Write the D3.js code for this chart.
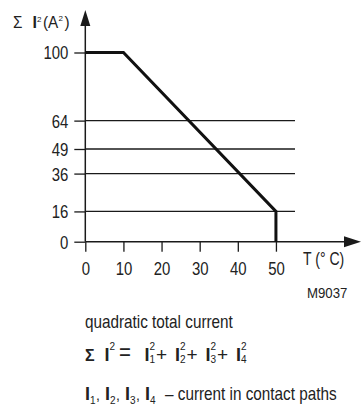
<!DOCTYPE html>
<html><head><meta charset="utf-8">
<script src="https://cdn.jsdelivr.net/npm/d3@7"></script>
<style>
html,body{margin:0;padding:0;background:#fff;}
text{font-family:"Liberation Sans",Arial,sans-serif;fill:#222;}
</style></head>
<body><svg id="c" width="363" height="411"></svg>
<script>
// data
const temps = [0, 10, 50, 50];
const currentSq = [100, 100, 16, 0];
const xTicks = [0, 10, 20, 30, 40, 50];
const yTicks = [0, 16, 36, 49, 64, 100];
const gridLines = [16, 36, 49, 64];

const svg = d3.select("#c");
const x = d3.scaleLinear().domain([0, 55]).range([85.3, 295]);
const y = d3.scaleLinear().domain([0, 100]).range([241.7, 52.5]);
const ink = "#1a1a1a";

// horizontal condensing around each text's own x
function condense(sel, s) {
  sel.each(function () {
    const t = d3.select(this);
    const x0 = +t.attr("x") || 0;
    t.attr("transform", `matrix(${s},0,0,1,${x0 * (1 - s)},0)`);
  });
  return sel;
}

// gridlines
svg.append("g").selectAll("line").data(gridLines).join("line")
  .attr("x1", x(0)).attr("x2", x(55)).attr("y1", d => y(d)).attr("y2", d => y(d))
  .attr("stroke", ink).attr("stroke-width", 1.3);

// y axis
const yAxis = d3.axisLeft(y).tickValues(yTicks).tickSize(11).tickPadding(6).tickFormat(d3.format("d"));
const gy = svg.append("g").attr("transform", `translate(${x(0)},0)`).call(yAxis);
gy.select(".domain").remove();
gy.selectAll(".tick line").attr("stroke", ink).attr("stroke-width", 1.3);
condense(gy.selectAll(".tick text").attr("font-size", 18).attr("font-family", null).attr("dy", "0.36em").attr("fill", "#222"), 0.83);

// x axis
const xAxis = d3.axisBottom(x).tickValues(xTicks).tickSize(10).tickPadding(11).tickFormat(d3.format("d"));
const gx = svg.append("g").attr("transform", `translate(0,${y(0)})`).call(xAxis);
gx.select(".domain").remove();
gx.selectAll(".tick line").attr("stroke", ink).attr("stroke-width", 1.3);
condense(gx.selectAll(".tick text").attr("font-size", 18).attr("font-family", null).attr("fill", "#222"), 0.83);

// axis lines with arrows
svg.append("line").attr("x1", x(0)).attr("x2", 344).attr("y1", y(0)).attr("y2", y(0))
  .attr("stroke", ink).attr("stroke-width", 1.5);
svg.append("path").attr("d", `M344,${y(0)-5.5}L361,${y(0)}L344,${y(0)+5.5}Z`).attr("fill", ink);
svg.append("line").attr("x1", x(0)).attr("x2", x(0)).attr("y1", y(0)).attr("y2", 25)
  .attr("stroke", ink).attr("stroke-width", 1.5);
svg.append("path").attr("d", `M${x(0)-5},26L${x(0)},10L${x(0)+5},26Z`).attr("fill", ink);

// data line
const line = d3.line().x((d, i) => x(temps[i])).y(d => y(d));
svg.append("path").datum(currentSq).attr("d", line)
  .attr("fill", "none").attr("stroke", "#111").attr("stroke-width", 3).attr("stroke-linejoin", "miter");

// y label
condense(svg.append("text").attr("x", 13).attr("y", 28).attr("font-size", 16).text("Σ"), 0.95);
svg.append("text").attr("x", 32.5).attr("y", 28).attr("font-size", 16).attr("font-weight", "bold").text("I");
svg.append("text").attr("x", 37).attr("y", 22).attr("font-size", 8).text("2");
condense(svg.append("text").attr("x", 43).attr("y", 28).attr("font-size", 17).text("(A"), 0.9);
svg.append("text").attr("x", 58.5).attr("y", 21).attr("font-size", 8).text("2");
condense(svg.append("text").attr("x", 64.5).attr("y", 28).attr("font-size", 17).text(")"), 0.9);

// x label
condense(svg.append("text").attr("x", 303).attr("y", 265).attr("font-size", 18).text("T (° C)"), 0.78);
condense(svg.append("text").attr("x", 307).attr("y", 298).attr("font-size", 15).text("M9037"), 0.88);

// bottom text
condense(svg.append("text").attr("x", 85).attr("y", 328).attr("font-size", 18).text("quadratic total current"), 0.85);

// formula
const fy = 361;
function Iterm(xp, sub) {
  svg.append("text").attr("x", xp).attr("y", fy).attr("font-size", 18).attr("font-weight", "bold").text("I");
  svg.append("text").attr("x", xp + 5).attr("y", fy - 11).attr("font-size", 10).text("2");
  if (sub) svg.append("text").attr("x", xp + 5).attr("y", fy + 2).attr("font-size", 10).text(sub);
}
svg.append("text").attr("x", 85).attr("y", fy).attr("font-size", 16).attr("font-weight", "bold")
  .attr("font-family", "DejaVu Serif").text("Σ");
Iterm(104.5, null);
condense(svg.append("text").attr("x", 119).attr("y", fy - 1).attr("font-size", 24).text("="), 0.85);
const subs = ["1", "2", "3", "4"];
subs.forEach((s, i) => {
  Iterm(144.5 + i * 30.5, s);
  if (i < 3) svg.append("text").attr("x", 156 + i * 30.5).attr("y", fy).attr("font-size", 19).text("+");
});

// last line
const ly = 400;
subs.forEach((s, i) => {
  const xp = 85 + i * 20;
  svg.append("text").attr("x", xp).attr("y", ly).attr("font-size", 18).attr("font-weight", "bold").text("I");
  svg.append("text").attr("x", xp + 5).attr("y", ly + 4).attr("font-size", 10).text(s);
  if (i < 3) svg.append("text").attr("x", xp + 11).attr("y", ly).attr("font-size", 14).text(",");
});
condense(svg.append("text").attr("x", 165).attr("y", ly).attr("font-size", 18).text("– current in contact paths"), 0.85);
</script></body></html>
